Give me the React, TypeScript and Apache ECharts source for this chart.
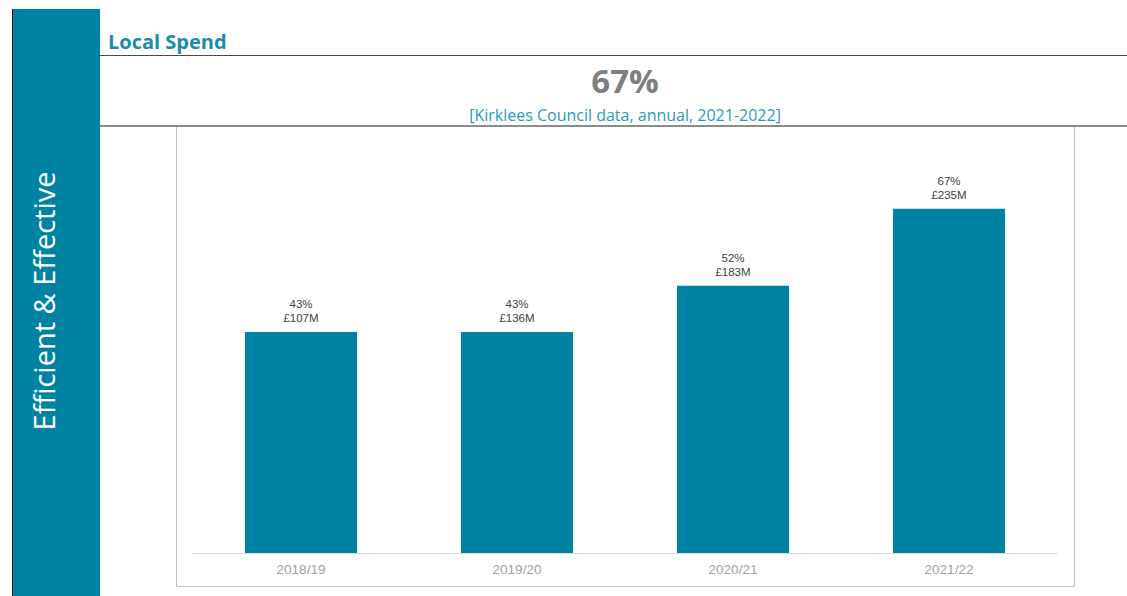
import React, { useEffect, useRef } from "react";
import * as echarts from "echarts";

const categories = ["2018/19", "2019/20", "2020/21", "2021/22"];
const sharePct = [43, 43, 52, 67];
const spendLabels = ["£107M", "£136M", "£183M", "£235M"];
const headline = "67%";
const titleText = "Local Spend";
const subtitleText = "[Kirklees Council data, annual, 2021-2022]";
const sideText = "Efficient & Effective";

const TEAL = "#0083A3";

export default function App() {
  const ref = useRef<HTMLDivElement>(null);
  useEffect(() => {
    if (!ref.current) return;
    const chart = echarts.init(ref.current, null, { renderer: "svg" });
    chart.setOption({
      animation: false,
      backgroundColor: "#ffffff",
      grid: { left: 193, right: 1127 - 1057, top: 142, bottom: 596 - 553, containLabel: false },
      xAxis: {
        type: "category",
        data: categories,
        axisLine: { show: true, lineStyle: { color: "#d9d9d9", width: 1 } },
        axisTick: { show: false },
        axisLabel: { color: "#a0a0a0", fontFamily: "Liberation Sans", fontSize: 13.5, margin: 9 },
      },
      yAxis: {
        type: "value",
        min: 0,
        max: 80,
        show: false,
        splitLine: { show: false },
      },
      series: [
        {
          type: "bar",
          data: sharePct,
          barWidth: 112,
          itemStyle: { color: TEAL },
          label: {
            show: true,
            position: "top",
            distance: 7,
            color: "#404040",
            fontFamily: "Liberation Sans",
            fontSize: 11.5,
            lineHeight: 14,
            formatter: (p: any) => `${p.value}%\n${spendLabels[p.dataIndex]}`,
          },
        },
      ],
      graphic: [
        { type: "rect", shape: { x: 12, y: 9, width: 88, height: 600 }, style: { fill: TEAL } },
        { type: "line", shape: { x1: 12.5, y1: 9, x2: 12.5, y2: 596 }, style: { stroke: "#1a1a1a", lineWidth: 1 } },
        {
          type: "text",
          x: 43,
          y: 301,
          rotation: Math.PI / 2,
          style: {
            text: sideText,
            fill: "#ffffff",
            font: "29px 'Open Sans'",
            textAlign: "center",
            textVerticalAlign: "middle",
          },
        },
        {
          type: "text",
          x: 108,
          y: 41,
          style: {
            text: titleText,
            fill: "#1B8BAA",
            font: "bold 20px 'Open Sans'",
            textAlign: "left",
            textVerticalAlign: "middle",
          },
        },
        { type: "line", shape: { x1: 100, y1: 55.5, x2: 1127, y2: 55.5 }, style: { stroke: "#4a4a4a", lineWidth: 1 } },
        {
          type: "text",
          x: 625,
          y: 80,
          style: {
            text: headline,
            fill: "#7f7f7f",
            font: "bold 33px 'Open Sans'",
            textAlign: "center",
            textVerticalAlign: "middle",
          },
        },
        {
          type: "text",
          x: 625,
          y: 115,
          style: {
            text: subtitleText,
            fill: "#2A9AC0",
            font: "16px 'Open Sans'",
            textAlign: "center",
            textVerticalAlign: "middle",
          },
        },
        { type: "rect", shape: { x: 176.5, y: 126, width: 898, height: 460.5 }, style: { fill: "none", stroke: "#c0c0c0", lineWidth: 1 } },
        { type: "line", shape: { x1: 100, y1: 126, x2: 1127, y2: 126 }, style: { stroke: "#8c8c8c", lineWidth: 2 } },
      ],
    });
    return () => chart.dispose();
  }, []);
  return (
    <div
      ref={ref}
      style={{ position: "fixed", left: 0, top: 0, width: 1127, height: 596, background: "#fff" }}
    />
  );
}
